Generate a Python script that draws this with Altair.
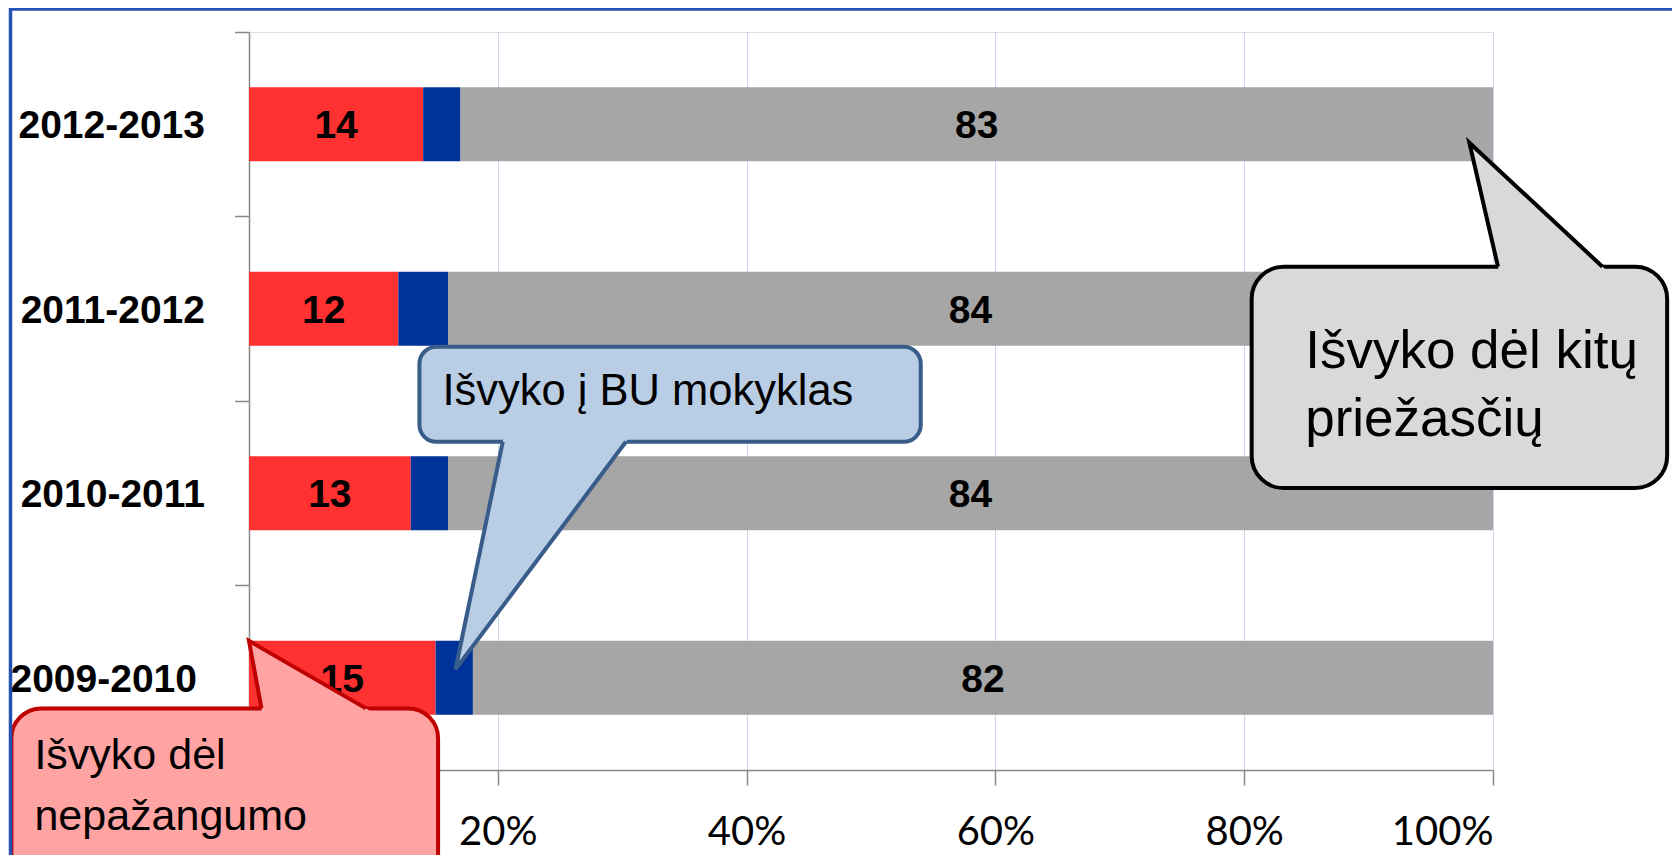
import altair as alt
import pandas as pd

# ---------------- data ----------------
years = ["2012-2013", "2011-2012", "2010-2011", "2009-2010"]
red_vals = [14, 12, 13, 15]      # Išvyko dėl nepažangumo
blue_vals = [3, 4, 3, 3]         # Išvyko į BU mokyklas
gray_vals = [83, 84, 84, 82]     # Išvyko dėl kitų priežasčių
series = ["Išvyko dėl nepažangumo", "Išvyko į BU mokyklas", "Išvyko dėl kitų priežasčių"]
colors = ["#FF3131", "#003399", "#A6A6A6"]
x_ticks = [0, 20, 40, 60, 80, 100]

# callouts (x in % of axis, y in category rows counted from the top: row i spans [i, i+1])
callout_lines = [["Išvyko dėl kitų", "priežasčių"], ["Išvyko į BU mokyklas"], ["Išvyko dėl", "nepažangumo"]]
box_x = [80.6, 13.7, -19.1]
box_x2 = [114.0, 54.0, 15.2]
box_y = [1.272, 1.706, 3.666]
box_y2 = [2.472, 2.221, 4.65]
tip_x = [98.1, 16.6, 0.0]
tip_y = [0.60, 3.454, 3.30]
base_x = [100.4, 20.4, 1.0]
base_x2 = [108.8, 30.3, 9.4]
base_y = [1.272, 2.221, 3.666]
text_x = [84.9, 15.55, -17.25]
text_y = [1.822, 2.023, 3.994]
line_step = [0.37, 0.0, 0.333]
font_sizes = [53, 43.5, 43]
fills = ["#D9D9D9", "#B9CDE5", "#FFA3A3"]
strokes = ["#000000", "#385D8A", "#C00000"]
corners = [32, 17, 30]

FONT = "Liberation Sans, Arial, sans-serif"
AXFONT = "Lato, Carlito, Calibri, sans-serif"

# ---------------- tables ----------------
rows = []
for i, yr in enumerate(years):
    start = 0
    for s, vals in zip(series, [red_vals, blue_vals, gray_vals]):
        v = vals[i]
        rows.append({"year": yr, "series": s, "value": v, "start": start,
                     "end": start + v, "mid": start + v / 2})
        start += v
bars_df = pd.DataFrame(rows)
labels_df = bars_df[bars_df["series"] != series[1]]

xscale = alt.Scale(domain=[0, 100], nice=False, zero=False)
yq = alt.Scale(domain=[0, 4], reverse=True, nice=False, zero=False)

bars = alt.Chart(bars_df).mark_bar(height={"band": 0.4}).encode(
    x=alt.X("start:Q", scale=xscale,
            axis=alt.Axis(values=x_ticks,
                          labelExpr="datum.value === 0 ? '' : datum.value + '%'", grid=True,
                          gridColor="#C9DAF0", gridWidth=1, domainColor="#888888",
                          domainWidth=1.5, tickColor="#888888", tickWidth=1.5, tickSize=15,
                          labelFont=AXFONT, labelFontSize=40, labelColor="#000000",
                          labelPadding=27, labelLimit=400, title=None)),
    x2="end:Q",
    y=alt.Y("year:N", sort=years, scale=alt.Scale(paddingInner=0, paddingOuter=0),
            axis=alt.Axis(bandPosition=0, domainColor="#888888", domainWidth=1.5,
                          tickColor="#888888", tickWidth=1.5, tickSize=14.5,
                          labelFont=FONT, labelFontSize=39, labelFontWeight="bold",
                          labelColor="#000000",
                          labelPadding={"condition": {"test": "datum.label === '2009-2010'", "value": 38},
                                        "value": 30},
                          labelOffset=2, labelLimit=400,
                          grid=False, title=None)),
    color=alt.Color("series:N", scale=alt.Scale(domain=series, range=colors), legend=None),
)

bar_labels = alt.Chart(labels_df).mark_text(
    font=FONT, fontSize=39, fontWeight="bold", color="#000000", baseline="middle", dy=2
).encode(
    x=alt.X("mid:Q", scale=xscale),
    y=alt.Y("year:N", sort=years, scale=alt.Scale(paddingInner=0, paddingOuter=0), axis=None),
    text=alt.Text("value:Q"),
)

layers = [bars, bar_labels]
text_layers = []


def tail_rows(tx, ty, bx, bx2, by, ext):
    k = 1 + ext / abs(by - ty)
    pts = [(tx, ty),
           (tx + (bx - tx) * k, ty + (by - ty) * k),
           (tx + (bx2 - tx) * k, ty + (by - ty) * k)]
    pts.sort(key=lambda p: p[0])
    (x0, y0), (x1, y1), (x2, y2) = pts
    py = y0 + (y2 - y0) * (x1 - x0) / (x2 - x0)
    return pd.DataFrame({"x": [x0, x1, x2], "y": [y0, y1, y2], "y2": [y0, py, y2]})


for i in range(3):
    body_df = pd.DataFrame({"x": [box_x[i]], "x2": [box_x2[i]], "y": [box_y[i]], "y2": [box_y2[i]]})
    body = alt.Chart(body_df).mark_rect(
        fill=fills[i], stroke=strokes[i], strokeWidth=4, cornerRadius=corners[i]
    ).encode(
        x=alt.X("x:Q", scale=xscale), x2="x2:Q",
        y=alt.Y("y:Q", scale=yq, axis=None), y2="y2:Q",
    )
    fill_df = tail_rows(tip_x[i], tip_y[i], base_x[i], base_x2[i], base_y[i], 0.03)
    tail_fill = alt.Chart(fill_df).mark_area(
        orient="vertical", fill=fills[i], opacity=1, interpolate="linear"
    ).encode(
        x=alt.X("x:Q", scale=xscale),
        y=alt.Y("y:Q", scale=yq, axis=None), y2="y2:Q",
    )
    line_df = pd.DataFrame({"x": [base_x[i], tip_x[i], base_x2[i]],
                            "y": [base_y[i], tip_y[i], base_y[i]], "o": [0, 1, 2]})
    tail_line = alt.Chart(line_df).mark_line(
        color=strokes[i], strokeWidth=4, strokeJoin="miter"
    ).encode(
        x=alt.X("x:Q", scale=xscale),
        y=alt.Y("y:Q", scale=yq, axis=None),
        order=alt.Order("o:Q"),
    )
    txt_df = pd.DataFrame({
        "x": [text_x[i]] * len(callout_lines[i]),
        "y": [text_y[i] + j * line_step[i] for j in range(len(callout_lines[i]))],
        "t": callout_lines[i],
    })
    txt = alt.Chart(txt_df).mark_text(
        font=FONT, fontSize=font_sizes[i], color="#000000", align="left", baseline="alphabetic"
    ).encode(
        x=alt.X("x:Q", scale=xscale),
        y=alt.Y("y:Q", scale=yq, axis=None),
        text="t:N",
    )
    layers += [body, tail_fill, tail_line]
    text_layers.append(txt)

frame = alt.Chart(pd.DataFrame({"a": [0]})).mark_rect(
    fillOpacity=0, stroke="#2252B2", strokeWidth=3.5
).encode(
    x=alt.value(-238.5), x2=alt.value(1700), y=alt.value(-23), y2=alt.value(900)
)

chart = alt.layer(*layers, *text_layers, frame).resolve_scale(y="independent").properties(
    width=1244, height=738,
    padding={"left": 241, "top": 24, "right": 179, "bottom": 85},
    autosize=alt.AutoSizeParams(type="none"),
).configure_view(stroke="transparent", strokeWidth=0).configure(background="#FFFFFF")

chart.save("out.html", embed_options={"renderer": "svg", "actions": False})
